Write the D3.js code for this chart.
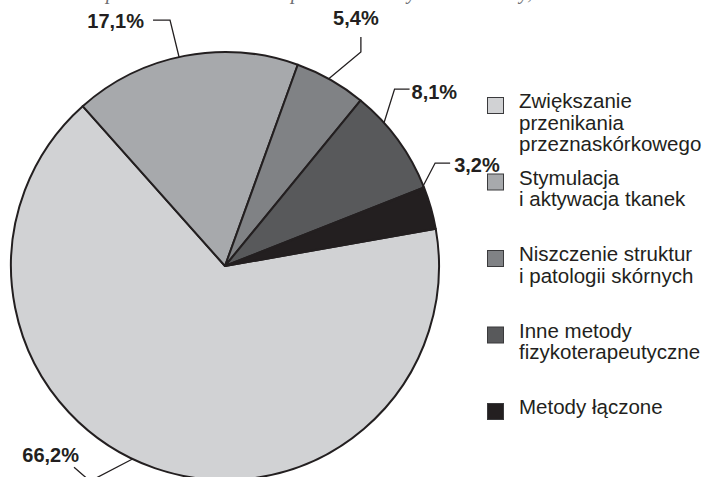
<!DOCTYPE html>
<html>
<head>
<meta charset="utf-8">
<script src="https://cdn.jsdelivr.net/npm/d3@7"></script>
<style>
  html, body { margin: 0; padding: 0; background: #fff; }
  svg { display: block; }
  text { font-family: "Liberation Sans", Arial, sans-serif; fill: #231f20; }
</style>
</head>
<body>
<div id="chart"></div>
<script>
// data
const categories = [
  "Zwiększanie przenikania przeznaskórkowego",
  "Stymulacja i aktywacja tkanek",
  "Niszczenie struktur i patologii skórnych",
  "Inne metody fizykoterapeutyczne",
  "Metody łączone"
];
const legendLines = [
  ["Zwiększanie", "przenikania", "przeznaskórkowego"],
  ["Stymulacja", "i aktywacja tkanek"],
  ["Niszczenie struktur", "i patologii skórnych"],
  ["Inne metody", "fizykoterapeutyczne"],
  ["Metody łączone"]
];
const values = [66.2, 17.1, 5.4, 8.1, 3.2];
const labels = ["66,2%", "17,1%", "5,4%", "8,1%", "3,2%"];
const colors = ["#d1d2d4", "#a7a9ac", "#808285", "#58595b", "#231f20"];

const width = 703, height = 477;
const cx = 225, cy = 266, radius = 214;
const deg = Math.PI / 180;

const svg = d3.select("#chart").append("svg")
    .attr("width", width)
    .attr("height", height);

// caption cut off at the very top, as in the source
svg.append("text")
    .attr("x", 30)
    .attr("y", -1)
    .style("font-family", "'Liberation Serif', 'DejaVu Serif', serif")
    .style("font-style", "italic")
    .style("font-size", "20px")
    .style("fill", "#6d6e71")
    .text("Źródło: opracowanie własne na podstawie danych z literatury, n = 222");

const pie = d3.pie()
    .sort(null)
    .startAngle(80 * deg)
    .endAngle(440 * deg);

const arc = d3.arc().innerRadius(0).outerRadius(radius);

const arcs = pie(values);

const g = svg.append("g").attr("transform", `translate(${cx},${cy})`);

g.selectAll("path")
    .data(arcs)
    .enter().append("path")
    .attr("d", arc)
    .attr("fill", (d, i) => colors[i])
    .attr("stroke", "#231f20")
    .attr("stroke-width", 2)
    .attr("stroke-linejoin", "round");

// callout leaders: anchor/elbow in polar coords around the centre
const polar = (a, r) => [Math.sin(a * deg) * r, -Math.cos(a * deg) * r];
const callouts = [
  { anchor: [205.6, 1.0],  elbow: [212.1, 254], tail: [-16, -14], text: [5, -5],  align: "end" },
  { anchor: [-12.4, 1.0],  elbow: [-12.6, 252], tail: [-17, 0],   text: [-9, 8],  align: "end" },
  { anchor: [29.0, 1.0],   elbow: [32.4, 253.6], tail: [0, -15],  text: [-5, -12], align: "middle" },
  { anchor: [48.0, 1.0],   elbow: [43.8, 245], tail: [15, 0],     text: [2, 10],  align: "start" },
  { anchor: [70.0, 0.96],  elbow: [63.9, 234], tail: [15, 0],     text: [4, 9],   align: "start" }
];

callouts.forEach((c, i) => {
  const a = polar(c.anchor[0], c.anchor[1] * radius);
  const e = polar(c.elbow[0], c.elbow[1]);
  const t = [e[0] + c.tail[0], e[1] + c.tail[1]];
  g.append("path")
      .attr("d", d3.line()([a, e, t]))
      .attr("fill", "none")
      .attr("stroke", "#231f20")
      .attr("stroke-width", 1.3);
  g.append("text")
      .attr("x", t[0] + c.text[0])
      .attr("y", t[1] + c.text[1])
      .attr("text-anchor", c.align)
      .style("font-size", "20px")
      .style("font-weight", "bold")
      .text(labels[i]);
});

// legend
const legend = svg.append("g").attr("transform", "translate(487,97)");
const item = legend.selectAll("g")
    .data(categories)
    .enter().append("g")
    .attr("transform", (d, i) => `translate(0,${i * 76.5})`);

item.append("rect")
    .attr("x", 0.5)
    .attr("y", 0.5)
    .attr("width", 16)
    .attr("height", 16)
    .attr("fill", (d, i) => colors[i])
    .attr("stroke", "#3a3a3c")
    .attr("stroke-width", 1);

item.append("text")
    .attr("x", 32)
    .attr("y", 11)
    .style("font-size", "20.5px")
    .selectAll("tspan")
    .data((d, i) => legendLines[i])
    .enter().append("tspan")
    .attr("x", 32)
    .attr("dy", (d, j) => j === 0 ? 0 : 21.5)
    .text(d => d);
</script>
</body>
</html>
